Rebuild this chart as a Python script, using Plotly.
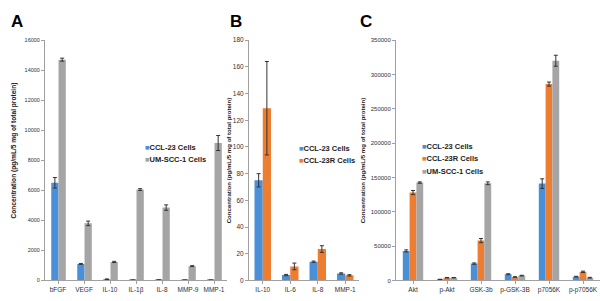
import plotly.graph_objects as go

# Panel A
a_cats = ["bFGF", "VEGF", "IL-10", "IL-1β", "IL-8", "MMP-9", "MMP-1"]
a_ccl23 = [6500, 1100, 80, 20, 30, 20, 20]
a_ccl23_err = [350, 30, 20, 5, 5, 5, 5]
a_um = [14700, 3800, 1230, 6050, 4850, 950, 9150]
a_um_err = [100, 150, 40, 60, 180, 30, 500]

# Panel B
b_cats = ["IL-10", "IL-6", "IL-8", "MMP-1"]
b_ccl23 = [75, 4, 14, 5.2]
b_ccl23_err = [5, 0.5, 0.5, 0.5]
b_ccl23r = [129, 10.5, 23.5, 3.8]
b_ccl23r_err = [35, 2.5, 2.5, 0.5]

# Panel C
c_cats = ["Akt", "p-Akt", "GSK-3b", "p-GSK-3B", "p7056K", "p-p7056K"]
c_ccl23 = [43000, 1500, 24500, 9000, 141000, 5500]
c_ccl23_err = [1500, 200, 1000, 700, 7000, 500]
c_ccl23r = [128000, 4000, 58000, 5000, 286000, 12500]
c_ccl23r_err = [3000, 300, 3000, 400, 3000, 1000]
c_um = [142500, 4000, 141500, 7000, 320000, 4000]
c_um_err = [1000, 300, 2000, 500, 8000, 500]

BLUE = "#4A90D9"
ORANGE = "#ED7D31"
GRAY = "#A5A5A5"
FONT = "Arial, Liberation Sans, sans-serif"

fig = go.Figure()

def bar(x, y, err, name, color, xa, ya, width, offset):
    return go.Bar(
        x=x, y=y, name=name, marker=dict(color=color, line=dict(width=0)),
        error_y=dict(type="data", array=err, color="#333333", thickness=1, width=2),
        xaxis=xa, yaxis=ya, width=width, offset=offset, showlegend=False,
    )

fig.add_trace(bar(a_cats, a_ccl23, a_ccl23_err, "CCL-23 Cells", BLUE, "x", "y", 0.28, -0.26))
fig.add_trace(bar(a_cats, a_um, a_um_err, "UM-SCC-1 Cells", GRAY, "x", "y", 0.28, 0.02))

fig.add_trace(bar(b_cats, b_ccl23, b_ccl23_err, "CCL-23 Cells", BLUE, "x2", "y2", 0.3, -0.3))
fig.add_trace(bar(b_cats, b_ccl23r, b_ccl23r_err, "CCL-23R Cells", ORANGE, "x2", "y2", 0.3, 0.0))

fig.add_trace(bar(c_cats, c_ccl23, c_ccl23_err, "CCL-23 Cells", BLUE, "x3", "y3", 0.2, -0.3))
fig.add_trace(bar(c_cats, c_ccl23r, c_ccl23r_err, "CCL-23R Cells", ORANGE, "x3", "y3", 0.2, -0.1))
fig.add_trace(bar(c_cats, c_um, c_um_err, "UM-SCC-1 Cells", GRAY, "x3", "y3", 0.2, 0.1))

ydom = [(301 - 283) / 301, (301 - 37) / 301]

def xax(dom):
    return dict(domain=dom, showline=True, linecolor="#A0A0A0", linewidth=1,
                ticks="outside", ticklen=3, tickcolor="#A0A0A0",
                tickfont=dict(family=FONT, size=6.5, color="#303030"),
                ticklabeloverflow="allow",
                showgrid=False, zeroline=False, fixedrange=True)

def yax(anchor, rng, dtick, fs):
    return dict(domain=ydom, anchor=anchor, range=rng, dtick=dtick, showline=True,
                linecolor="#A0A0A0", linewidth=1, ticks="outside", ticklen=3,
                tickcolor="#A0A0A0", tickformat="d",
                tickfont=dict(family=FONT, size=fs, color="#303030"),
                showgrid=False, zeroline=False, fixedrange=True)

fig.update_layout(
    width=600, height=301,
    margin=dict(l=0, r=0, t=0, b=0),
    paper_bgcolor="white", plot_bgcolor="white",
    barmode="group",
    showlegend=False,
    xaxis=dict(xax([45 / 600, 227 / 600]), anchor="y"),
    yaxis=yax("x", [0, 16000], 2000, 5.5),
    xaxis2=dict(xax([249 / 600, 359 / 600]), anchor="y2"),
    yaxis2=yax("x2", [0, 180], 20, 6.5),
    xaxis3=dict(xax([396 / 600, 600 / 600]), anchor="y3"),
    yaxis3=yax("x3", [0, 350000], 50000, 6),
)

# Legends drawn as text with coloured square glyphs
legends = [
    (143, [(147, "CCL-23 Cells", BLUE), (159, "UM-SCC-1 Cells", GRAY)]),
    (297, [(148, "CCL-23 Cells", BLUE), (160, "CCL-23R Cells", ORANGE)]),
    (420, [(146, "CCL-23 Cells", BLUE), (158, "CCL-23R Cells", ORANGE), (171, "UM-SCC-1 Cells", GRAY)]),
]
for xpos, items in legends:
    for ypos, label, color in items:
        fig.add_annotation(
            text=f"<span style='color:{color}'>■</span><b>{label}</b>",
            x=xpos / 600, y=1 - ypos / 301, xref="paper", yref="paper",
            showarrow=False, xanchor="left", yanchor="middle",
            font=dict(family=FONT, size=7.5, color="#202020"))

ytitle = "Concentration (pg/mL/5 mg of total protein)"
for xpos, ypos, fs in [(14, 150, 6.6), (228, 160, 6.1), (362, 160, 6.1)]:
    fig.add_annotation(text="<b>" + ytitle + "</b>", x=xpos / 600, y=1 - ypos / 301,
                       xref="paper", yref="paper", textangle=-90, showarrow=False,
                       font=dict(family=FONT, size=fs, color="#202020"),
                       xanchor="center", yanchor="middle")

for letter, xpos in [("A", 17), ("B", 236), ("C", 366)]:
    fig.add_annotation(text="<b>" + letter + "</b>", x=xpos / 600, y=1 - 18 / 301,
                       xref="paper", yref="paper", showarrow=False,
                       font=dict(family=FONT, size=17, color="black"),
                       xanchor="center", yanchor="middle")

fig.write_html("out.html", config={"displayModeBar": False},
               post_script="document.body.style.margin='0';document.body.style.overflow='hidden';")
